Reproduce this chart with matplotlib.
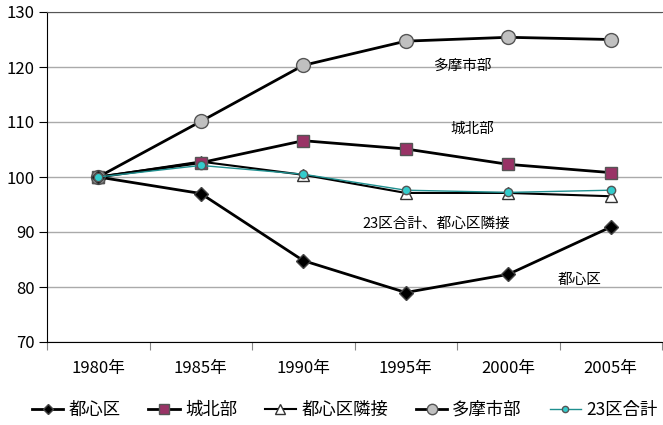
import matplotlib.pyplot as plt

plt.rcParams['font.family'] = ['Noto Sans CJK JP', 'DejaVu Sans']

years = ['1980年', '1985年', '1990年', '1995年', '2000年', '2005年']
toshin = [100, 97.0, 84.8, 79.0, 82.3, 90.9]
johoku = [100, 102.6, 106.6, 105.1, 102.3, 100.8]
rinsetsu = [100, 102.8, 100.4, 97.1, 97.1, 96.5]
tama = [100, 110.1, 120.3, 124.7, 125.4, 125.0]
ku23 = [100, 102.1, 100.5, 97.6, 97.2, 97.6]

fig = plt.figure(figsize=(6.63, 4.25), dpi=100)
ax = fig.add_axes([47 / 663, 1 - 342 / 425, 615 / 663, 330 / 425])

x = range(len(years))
ax.plot(x, toshin, color='black', lw=2, marker='D', ms=7, mfc='black', mec='#444444', label='都心区', zorder=5)
ax.plot(x, johoku, color='black', lw=2, marker='s', ms=9, mfc='#993366', mec='#555555', label='城北部', zorder=4)
ax.plot(x, rinsetsu, color='black', lw=1.5, marker='^', ms=9, mfc='white', mec='#333333', label='都心区隣接', zorder=3)
ax.plot(x, tama, color='black', lw=2, marker='o', ms=10, mfc='#c0c0c0', mec='#555555', label='多摩市部', zorder=4)
ax.plot(x, ku23, color='#1f8f8f', lw=1, marker='o', ms=6, mfc='#33cccc', mec='#555555', label='23区合計', zorder=6)

# labels placed beside the lines
ax.text(3.55, 120.2, '多摩市部', fontsize=10.5, ha='center', va='center')
ax.text(3.65, 108.8, '城北部', fontsize=10.5, ha='center', va='center')
ax.text(3.3, 91.5, '23区合計、都心区隣接', fontsize=10.5, ha='center', va='center')
ax.text(4.7, 81.2, '都心区', fontsize=10.5, ha='center', va='center')

ax.set_xlim(-0.5, 5.5)
ax.set_ylim(70, 130)
ax.set_yticks(range(70, 131, 10))
ax.set_xticks([i + 0.5 for i in range(-1, 6)])
ax.set_xticklabels([])
ax.set_xticks(list(x), minor=True)
ax.set_xticklabels(years, minor=True, fontsize=12)
ax.tick_params(axis='x', which='minor', length=0, pad=13)
ax.tick_params(axis='x', which='major', length=6, direction='out', color='#888888')
ax.tick_params(axis='y', labelsize=12, length=6, pad=3)

ax.grid(axis='y', color='#aaaaaa', lw=1)
ax.set_axisbelow(True)
ax.spines['top'].set_color('#555555')
ax.spines['right'].set_visible(False)
ax.spines['left'].set_color('black')
ax.spines['bottom'].set_color('black')

fig.legend(loc='center', bbox_to_anchor=(0.52, 1 - 410 / 425), ncol=5, frameon=False,
           fontsize=12.5, handlelength=1.8, handletextpad=0.3, columnspacing=1.6, markerscale=0.75)

fig.savefig('out.png', dpi=100)
